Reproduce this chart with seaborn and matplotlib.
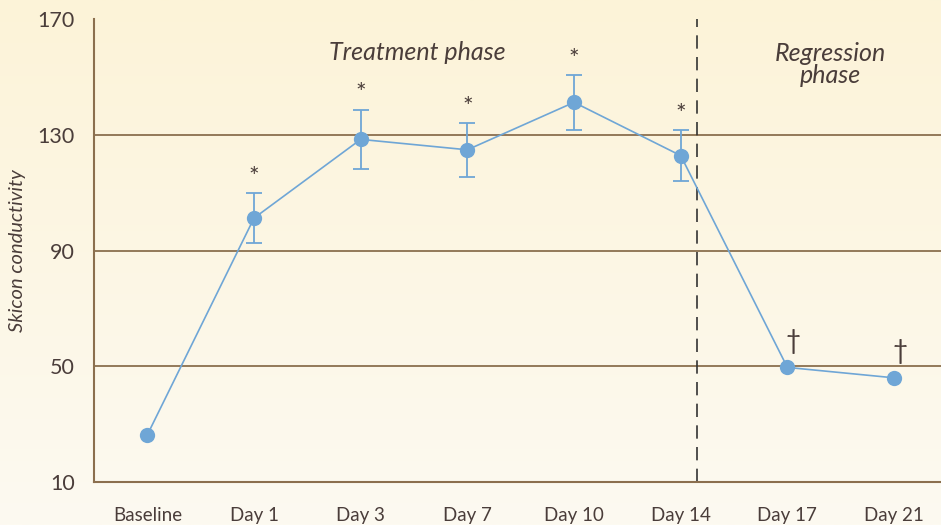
import numpy as np
import pandas as pd
import matplotlib.pyplot as plt
import seaborn as sns

# ─── Data ─────────────────────────────────────────────────────────────────────
days      = ["Baseline", "Day 1", "Day 3", "Day 7", "Day 10", "Day 14", "Day 17", "Day 21"]
values    = [26.3, 101.2, 128.4, 124.8, 141.2, 122.8, 49.6, 46.0]
errors    = [0, 8.6, 10.3, 9.3, 9.4, 8.8, 0, 0]
marks     = ["", "*", "*", "*", "*", "*", "\u2020", "\u2020"]
yticks    = [10, 50, 90, 130, 170]

BROWN = "#8b6f4e"
BLUE  = "#6fa6d6"
TEXT  = "#4a3d3a"

sns.set_style("white")
plt.rcParams["font.family"] = ["Lato", "DejaVu Sans"]

df = pd.DataFrame({"pos": np.arange(len(days)), "value": values, "err": errors})

fig = plt.figure(figsize=(9.41, 5.25), dpi=100)

# ── gradient background ──────────────────────────────────────────────────────
bg = fig.add_axes([0, 0, 1, 1], zorder=0)
grad = np.linspace(0, 1, 256)[:, None]
top_c = np.array([252, 243, 216]) / 255
bot_c = np.array([253, 250, 241]) / 255
img = top_c[None, None, :] * (1 - grad[:, :, None]) + bot_c[None, None, :] * grad[:, :, None]
bg.imshow(img, aspect="auto", extent=[0, 1, 0, 1])
bg.axis("off")

ax = fig.add_axes([0.0999, 0.0819, 0.9001, 0.8819], zorder=1)
ax.set_facecolor("none")

# ── grid lines ───────────────────────────────────────────────────────────────
for y in yticks[1:-1]:
    ax.axhline(y, color=BROWN, lw=1.3, zorder=1)

# ── error bars + line ────────────────────────────────────────────────────────
eb = df[df["err"] > 0]
ax.errorbar(eb["pos"], eb["value"], yerr=eb["err"], fmt="none",
            ecolor=BLUE, elinewidth=1.3, capsize=5.5, capthick=1.3, zorder=2)
sns.lineplot(data=df, x="pos", y="value", ax=ax, color=BLUE, lw=1.2,
             marker="o", markersize=11, markeredgewidth=0, sort=False, zorder=3)

# ── significance marks ───────────────────────────────────────────────────────
for p, v, e, m in zip(df["pos"], values, errors, marks):
    if not m:
        continue
    if m == "*":
        ax.annotate(m, (p, v + e), xytext=(0, 3), textcoords="offset points",
                    ha="center", va="bottom", fontsize=18, color=TEXT)
    else:
        ax.annotate(m, (p, v), xytext=(4, 10), textcoords="offset points",
                    ha="center", va="bottom", fontsize=19, color=TEXT)

# ── phase divider + labels ───────────────────────────────────────────────────
ax.axvline(5.15, color="#333333", lw=1.2, ls=(0, (8, 5)), zorder=1)
ax.text(2.53, 158.3, "Treatment phase", ha="center", va="center",
        fontsize=18, style="italic", color=TEXT)
ax.text(6.4, 154.3, "Regression\nphase", ha="center", va="center",
        fontsize=18, style="italic", color=TEXT, linespacing=0.95)

# ── axes ─────────────────────────────────────────────────────────────────────
ax.set_xlim(-0.5, 7.44)
ax.set_ylim(10, 170)
ax.set_yticks(yticks)
ax.set_yticklabels([str(t) for t in yticks], fontsize=15.5, color=TEXT)
ax.set_xticks(df["pos"])
ax.set_xticklabels(days, fontsize=13.5, color=TEXT)
ax.tick_params(axis="x", length=0, pad=18)
ax.tick_params(axis="y", length=0, pad=14)
ax.set_xlabel("")
ax.set_ylabel("Skicon conductivity", fontsize=14.5, style="italic", color=TEXT, labelpad=8)
for s in ["top", "right"]:
    ax.spines[s].set_visible(False)
for s in ["left", "bottom"]:
    ax.spines[s].set_color(BROWN)
    ax.spines[s].set_linewidth(1.5)

fig.savefig("out.png", dpi=100, facecolor=fig.get_facecolor())
